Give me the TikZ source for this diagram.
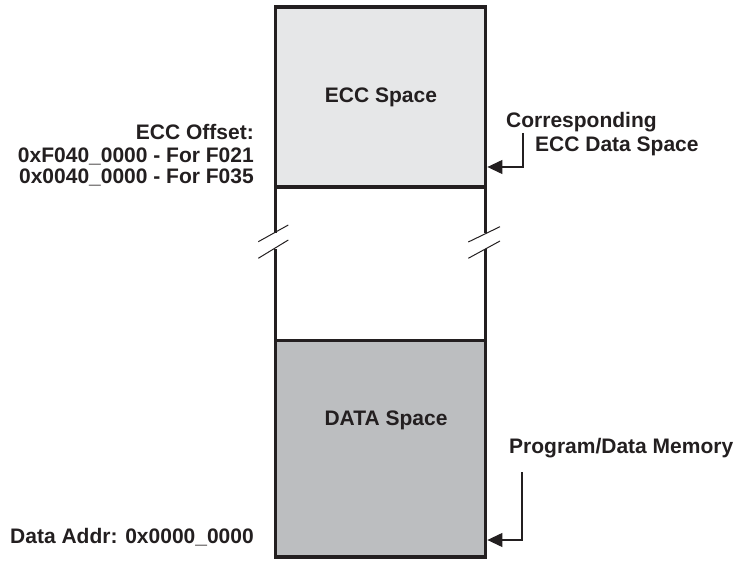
\documentclass[tikz,border=0pt]{standalone}
\usepackage{fontspec}
\setmainfont{Liberation Sans}
\usetikzlibrary{arrows.meta}

\definecolor{ink}{HTML}{231F20}
\definecolor{eccfill}{HTML}{E6E7E8}
\definecolor{datafill}{HTML}{BCBEC0}

\tikzset{
  membox/.style={draw=ink, line width=3.8pt, inner sep=0pt, minimum width=210pt},
  gapside/.style={draw=ink, line width=2.2pt},
  breakmark/.style={draw=ink, line width=1pt},
  lbl/.style={inner sep=0pt, text=ink, font=\fontsize{21}{25}\selectfont\bfseries},
  pointer/.style={draw=ink, line width=1.2pt, -{Triangle[length=15pt, width=14pt]}},
}

\begin{document}
\begin{tikzpicture}[x=1pt, y=-1pt]
  \useasboundingbox (0,0) rectangle (739,561);

  % elided region between the blocks, sides broken by the cut marks
  \draw[gapside] (275.5,187) -- (275.5,232.8);
  \draw[gapside] (275.5,249.4) -- (275.5,340);
  \draw[gapside] (485.5,187) -- (485.5,232.8);
  \draw[gapside] (485.5,249.4) -- (485.5,340);

  % memory blocks
  \node[membox, fill=eccfill, minimum height=180pt] (ecc) at (380.5,97) {};
  \node[membox, fill=datafill, minimum height=216.5pt] (data) at (380.5,448.75) {};

  % cut marks
  \draw[breakmark] (258.3,241.7) -- (288.3,225.0);
  \draw[breakmark] (258.3,258.3) -- (288.3,240.0);
  \draw[breakmark] (468.3,242.0) -- (500.0,226.7);
  \draw[breakmark] (468.3,258.3) -- (500.0,241.0);

  % block titles
  \node[lbl, anchor=base] (eccTitle) at (381,103) {ECC Space};
  \node[lbl, anchor=base] (dataTitle) at (386,425) {DATA Space};

  % left-hand address notes
  \node[lbl, anchor=base east] (offsetHead) at (254,140) {ECC Offset:};
  \node[lbl, anchor=base east] (offsetA) at (254,162.5) {0xF040\_0000 - For F021};
  \node[lbl, anchor=base east] (offsetB) at (254,184) {0x0040\_0000 - For F035};
  \node[lbl, anchor=base east] (dataAddr) at (254,543) {Data Addr: 0x0000\_0000};

  % right-hand callouts
  \node[lbl, anchor=base west] (corrA) at (506,127.5) {Corresponding};
  \node[lbl, anchor=base west] (corrB) at (535,151.5) {ECC Data Space};
  \node[lbl, anchor=base west] (progMem) at (509,453) {Program/Data Memory};

  \coordinate (eccTail) at (523,133);
  \coordinate (dataTail) at (522,472);
  \draw[pointer] (eccTail) |- ([yshift=-70pt]ecc.east);
  \draw[pointer] (dataTail) |- ([yshift=-91.25pt]data.east);
\end{tikzpicture}
\end{document}
